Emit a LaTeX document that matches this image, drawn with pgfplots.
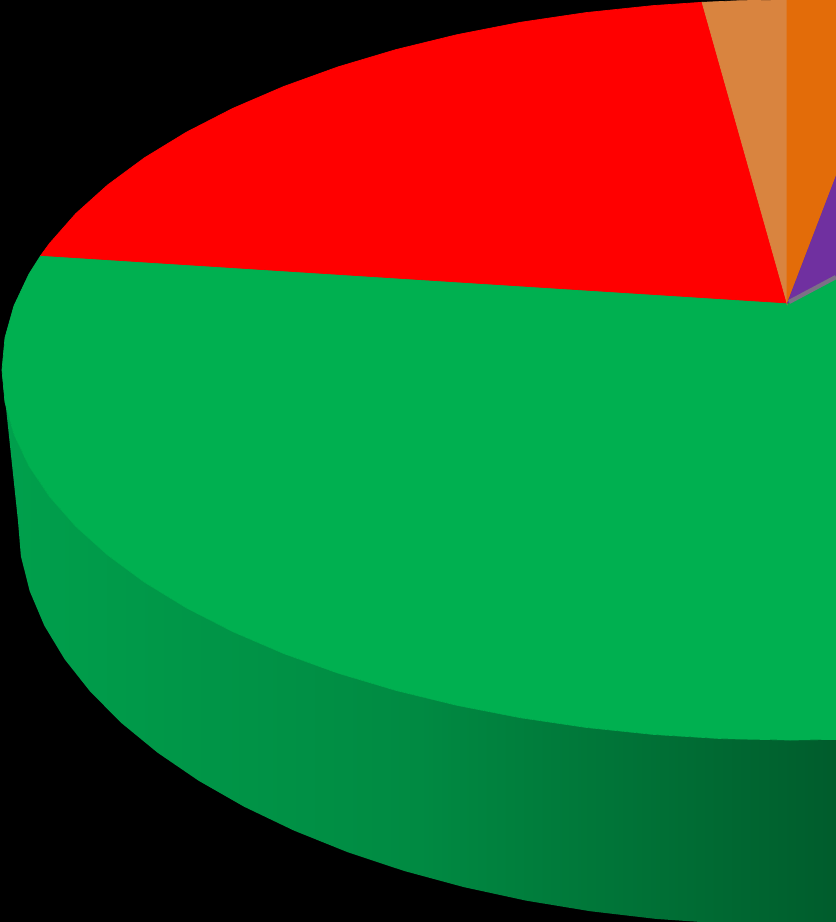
\documentclass[border=0pt]{standalone}
\usepackage{pgfplots}
\pgfplotsset{compat=1.18}
\definecolor{pgreen}{HTML}{00B050}
\definecolor{pred}{HTML}{FF0000}
\definecolor{plorange}{HTML}{D9843F}
\definecolor{pdorange}{HTML}{E36C09}
\definecolor{ppurple}{HTML}{7030A0}
\definecolor{sideL}{HTML}{00A04C}
\definecolor{sideM}{HTML}{008A42}
\definecolor{sideR}{HTML}{005C2C}
\begin{document}
\begin{tikzpicture}
\begin{axis}[
    scale only axis,
    width=8.36cm, height=9.22cm,
    xmin=0, xmax=836,
    ymin=0, ymax=922,
    y dir=reverse,
    hide axis,
]
% background
\addplot[fill=black, draw=none, mark=none]
    coordinates {(0,0)(836,0)(836,922)(0,922)} -- cycle;

% side of the pie (outer wall, only the green slice shows)
\addplot[draw=none, mark=none, left color=sideL, right color=sideR, middle color=sideM]
    coordinates {
    (2,370)(5.0,402.3)(14.0,434.2)(28.9,465.8)(49.5,496.5)(75.8,526.4)
    (107.6,555)(144.5,582.2)(186.4,607.8)(232.8,631.6)(283.5,653.4)
    (338.0,673.1)(396,690.4)(457.0,705.3)(520.5,717.7)(586.1,727.4)
    (653.2,734.4)(721.3,738.6)(790,740)(836,739.4)
    (836,924.3)(790,925)(722.7,923.5)(656.0,918.9)(590.2,911.2)
    (526.0,900.6)(463.8,887.1)(404,870.9)(347.2,852.0)(293.8,830.5)
    (244.1,806.7)(198.6,780.7)(157.6,752.7)(121.4,723)(90.3,691.7)
    (64.6,659.2)(44.3,625.6)(29.7,591.1)(20.9,556.2)(18,521)
    } -- cycle;

% top face: green slice
\addplot[fill=pgreen, draw=pgreen, line width=0.2pt, mark=none]
    coordinates {
    (788,303)(40.8,255.4)(28.9,274.2)(14.0,305.8)(5.0,337.7)(2,370)
    (5.0,402.3)(14.0,434.2)(28.9,465.8)(49.5,496.5)(75.8,526.4)
    (107.6,555)(144.5,582.2)(186.4,607.8)(232.8,631.6)(283.5,653.4)
    (338.0,673.1)(396,690.4)(457.0,705.3)(520.5,717.7)(586.1,727.4)
    (653.2,734.4)(721.3,738.6)(790,740)(836,739.4)(836,276.5)
    } -- cycle;

% red slice
\addplot[fill=pred, draw=pred, line width=0.2pt, mark=none]
    coordinates {
    (788,303)(702.1,2.3)(653.2,5.6)(586.1,12.6)(520.5,22.3)(457.0,34.7)
    (396,49.6)(338.0,66.9)(283.5,86.6)(232.8,108.4)(186.4,132.2)
    (144.5,157.8)(107.6,185)(75.8,213.6)(49.5,243.5)(40.8,255.4)
    } -- cycle;

% light orange slice
\addplot[fill=plorange, draw=plorange, line width=0.2pt, mark=none]
    coordinates {(787,303)(787,0)(740,0.7)(702.1,2.3)} -- cycle;

% dark orange slice
\addplot[fill=pdorange, draw=pdorange, line width=0.2pt, mark=none]
    coordinates {(787,303)(836,176.5)(836,0)(787,0)} -- cycle;

% purple slice
\addplot[fill=ppurple, draw=ppurple, line width=0.2pt, mark=none]
    coordinates {(787.5,303)(836,276.5)(836,176.5)} -- cycle;

% thin grey sliver between purple and green
\addplot[draw=gray!80!ppurple, line width=1.2pt, mark=none]
    coordinates {(789,302)(836,277)};
\end{axis}
\end{tikzpicture}
\end{document}
